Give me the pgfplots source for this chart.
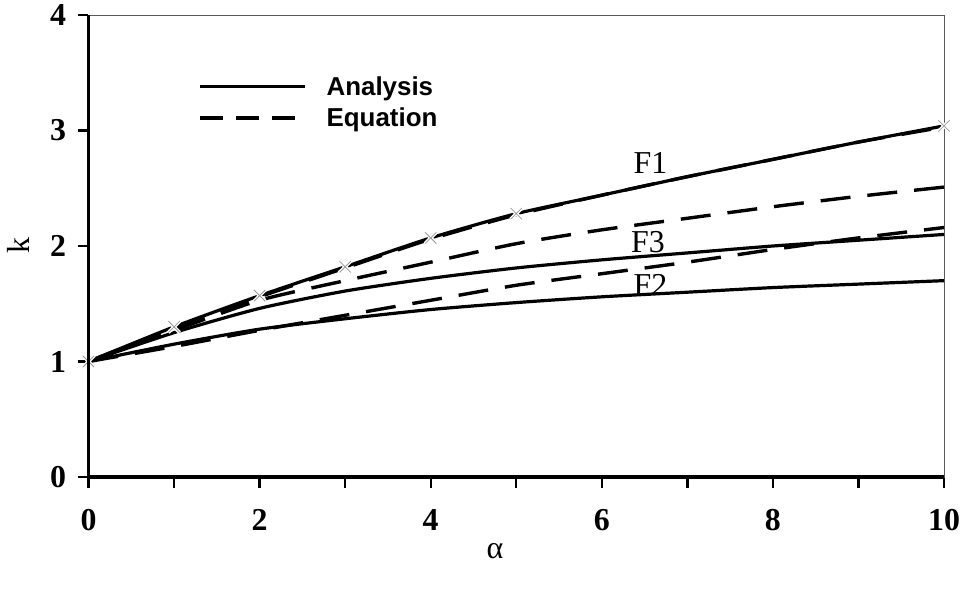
\documentclass[border=0pt]{standalone}
\usepackage{fontspec}
\setmainfont{Liberation Serif}
\newfontfamily\arialfont{Liberation Sans}
\usepackage{pgfplots}
\pgfplotsset{compat=1.18}

% curves: alpha, k
\pgfplotstableread{
a    F1A   F1E   F3A   F3E   F2A   F2E
0    1.00  1.00  1.00  1.00  1.00  1.00
1    1.30  1.29  1.25  1.27  1.15  1.13
2    1.57  1.56  1.46  1.53  1.28  1.27
3    1.82  1.81  1.61  1.70  1.37  1.40
4    2.07  2.06  1.72  1.86  1.45  1.53
5    2.28  2.27  1.81  2.02  1.51  1.66
6    2.44  2.44  1.88  2.14  1.56  1.76
7    2.60  2.60  1.94  2.24  1.60  1.86
8    2.75  2.75  2.00  2.34  1.64  1.97
9    2.90  2.90  2.05  2.43  1.67  2.07
10   3.04  3.03  2.10  2.51  1.70  2.16
}\curves

\pgfplotstableread{
a    k
0    1.00
1    1.30
2    1.57
3    1.82
4    2.07
5    2.28
10   3.04
}\marks

\begin{document}
\begin{tikzpicture}
\begin{axis}[
  scale only axis, width=855.5bp, height=462bp,
  xmin=0, xmax=10, ymin=0, ymax=4,
  xtick={0,...,10}, xticklabels={0,,2,,4,,6,,8,,10},
  ytick={0,1,2,3,4},
  xtick pos=left, ytick pos=left,
  tick align=outside, major tick length=11bp,
  tick style={black, line width=2.4bp},
  axis line style={draw=black!65, line width=1bp},
  tick label style={font=\fontsize{32}{34}\selectfont\bfseries},
  /pgf/number format/assume math mode=true,
  xticklabel style={yshift=-18bp},
  yticklabel style={xshift=-8bp},
  xlabel={α}, ylabel={k},
  label style={font=\fontsize{32}{34}\selectfont},
  xlabel style={at={(axis description cs:0.475,-0.16)}, anchor=center},
  ylabel style={at={(axis description cs:-0.082,0.502)}, anchor=center},
  legend style={draw=none, fill=none, inner sep=0pt,
    at={(axis description cs:0.128,0.811)}, anchor=west,
    font=\arialfont\bfseries\fontsize{26}{27}\selectfont,
    nodes={inner sep=0pt}, row sep=11bp, column sep=20bp},
  legend cell align=left,
]
\coordinate (O) at (rel axis cs:0,0);
\addplot[black, line width=3.2bp, smooth, tension=0.4,
  legend image code/.code={\draw[black, line width=3.2bp] (0bp,0bp) -- (105bp,0bp);}]
  table[x=a, y=F1A] {\curves};
\addlegendentry{Analysis}
\addplot[black, line width=3.4bp, smooth, tension=0.4, dash pattern=on 30bp off 17bp,
  legend image code/.code={\draw[black, line width=3.4bp, dash pattern=on 23bp off 13bp] (0bp,0bp) -- (105bp,0bp);}]
  table[x=a, y=F1E] {\curves};
\addlegendentry{Equation}
\addplot[black, line width=3.2bp, smooth, tension=0.4, forget plot]
  table[x=a, y=F3A] {\curves};
\addplot[black, line width=3.4bp, smooth, tension=0.4, dash pattern=on 30bp off 17bp, forget plot]
  table[x=a, y=F3E] {\curves};
\addplot[black, line width=3.2bp, smooth, tension=0.4, forget plot]
  table[x=a, y=F2A] {\curves};
\addplot[black, line width=3.4bp, smooth, tension=0.4, dash pattern=on 30bp off 17bp, forget plot]
  table[x=a, y=F2E] {\curves};
\addplot[only marks, mark=x, mark size=8bp, white, line width=3.5bp, forget plot]
  table[x=a, y=k] {\marks};
\addplot[only marks, mark=x, mark size=8bp, black!40, line width=0.8bp, forget plot]
  table[x=a, y=k] {\marks};
\node[font=\fontsize{32}{34}\selectfont] at (axis cs:6.57,2.72) {F1};
\node[font=\fontsize{32}{34}\selectfont] at (axis cs:6.54,2.03) {F3};
\node[font=\fontsize{32}{34}\selectfont] at (axis cs:6.57,1.66) {F2};
\end{axis}
\draw[black, line width=3.8bp] (O) ++(0,462bp) -- (O) -- ++(855.5bp,0);
\pgfresetboundingbox
\path[use as bounding box] (O) ++(-88.5bp,-117bp) rectangle ++(966bp,594bp);
\end{tikzpicture}
\end{document}
